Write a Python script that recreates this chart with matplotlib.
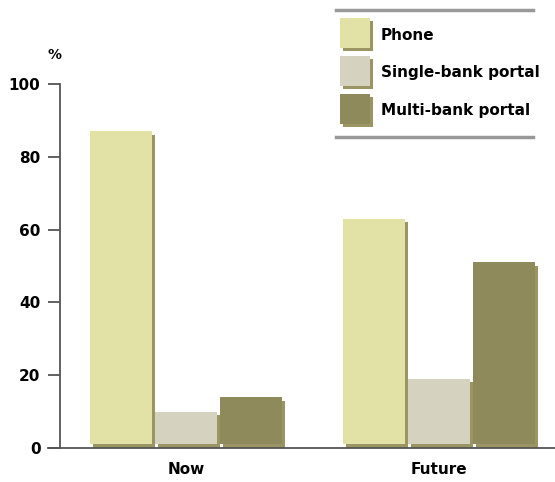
import matplotlib
matplotlib.use("Agg")
import matplotlib.pyplot as plt
from matplotlib.patches import Rectangle
from matplotlib.lines import Line2D
import numpy as np

# data
periods = ["Now", "Future"]
channels = ["Phone", "Single-bank portal", "Multi-bank portal"]
phone = [87, 63]
single_bank = [10, 19]
multi_bank = [14, 51]
yticks = [0, 20, 40, 60, 80, 100]

colors = ["#e2e2a6", "#d5d2c0", "#8e8a5b"]
shadow = "#9a9563"

plt.rcParams['font.family'] = ['DejaVu Sans']

fig = plt.figure(figsize=(5.55, 4.82), dpi=100)
W, H = 555.0, 482.0
ax = fig.add_axes([48 / W, 34 / H, (555 - 48) / W, (448 - 84) / H])

series = [phone, single_bank, multi_bank]
x = np.arange(len(periods))
width = 0.245
step = 0.258
dx = 0.012   # shadow offset (x, data units)
dy = 1.0     # shadow offset (y, data units)

for i, vals in enumerate(series):
  pos = x + (i - 1) * step
  ax.bar(pos + dx, np.array(vals) - dy, width=width, bottom=0,
         color=shadow, linewidth=0, zorder=2)
  ax.bar(pos, np.array(vals) - dy, width=width, bottom=dy,
         color=colors[i], linewidth=0, zorder=3)

ax.set_xlim(-0.545, 1.458)
ax.set_ylim(0, 100)

for s in ["top", "right"]:
  ax.spines[s].set_visible(False)
ax.spines["left"].set_position(("axes", 12 / 507))
ax.spines["left"].set_color("#555555")
ax.spines["left"].set_linewidth(1.3)
ax.spines["bottom"].set_color("#555555")
ax.spines["bottom"].set_linewidth(1.3)

ax.set_yticks(yticks)
ax.set_yticklabels([str(v) for v in yticks], fontsize=11, fontweight="bold")
ax.tick_params(axis="y", length=9, width=1.3, color="#555555", pad=5)
ax.set_xticks(x)
ax.set_xticklabels(periods, fontsize=11, fontweight="bold")
ax.tick_params(axis="x", length=0, pad=10)

fig.text(55 / W, 1 - 55 / H, "%", fontsize=10, fontweight="bold",
         ha="center", va="center")

# legend box
for yl in [10, 137]:
  fig.add_artist(Line2D([336 / W, 533 / W], [1 - yl / H, 1 - yl / H],
                        color="#999999", linewidth=2.5))
legend_y = [35, 73, 111]
for i, name in enumerate(channels):
  yc = legend_y[i]
  fig.add_artist(Rectangle(((343) / W, 1 - (yc + 16) / H), 30 / W, 30 / H,
                           transform=fig.transFigure, color=shadow, linewidth=0))
  fig.add_artist(Rectangle((340 / W, 1 - (yc + 13) / H), 30 / W, 30 / H,
                           transform=fig.transFigure, color=colors[i], linewidth=0))
  fig.text(381 / W, 1 - yc / H, name, fontsize=11, fontweight="bold",
           ha="left", va="center")

fig.savefig("out.png", dpi=100)
